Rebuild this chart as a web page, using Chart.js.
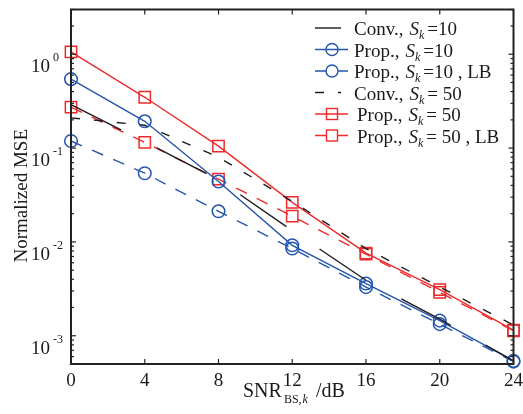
<!DOCTYPE html>
<html>
<head>
<meta charset="utf-8">
<script src="https://cdn.jsdelivr.net/npm/chart.js@4"></script>
<style>
  html, body { margin: 0; padding: 0; background: #fff; }
  #wrap { width: 523px; height: 414px; }
</style>
</head>
<body>
<div id="wrap"><canvas id="mse" width="523" height="414"></canvas></div>
<script>
// SNR_BS,k in dB
const snr = [0, 4, 8, 12, 16, 20, 24];

// normalized MSE
const convS10   = [0.29, 0.117, 0.046, 0.0132, 0.0039, 0.0015, 0.00054];
const propS10   = [0.543, 0.193, 0.044, 0.0092, 0.0036, 0.00145, 0.00054];
const propS10LB = [0.119, 0.054, 0.0212, 0.0085, 0.0033, 0.00133, 0.00053];
const convS50   = [0.21, 0.175, 0.08, 0.027, 0.0085, 0.0033, 0.0013];
const propS50   = [1.06, 0.348, 0.105, 0.0264, 0.0076, 0.0031, 0.00115];
const propS50LB = [0.273, 0.115, 0.0466, 0.0188, 0.0074, 0.0029, 0.00113];

const xTicks = [0, 4, 8, 12, 16, 20, 24];
const yTicks = [1, 0.1, 0.01, 0.001];
const yTickExp = ['0', '-1', '-2', '-3'];

const legendName = ['Conv.,', 'Prop.,', 'Prop.,', 'Conv.,', 'Prop.,', 'Prop.,'];
const legendSk   = ['10', '10', '10', '50', '50', '50'];
const legendTail = ['', '', ' , LB', '', '', ' , LB'];

const BLUE = '#2456ad';
const RED = '#ee2b2b';
const BLACK = '#1c1c1c';
const SERIF = '"Liberation Serif", "Times New Roman", serif';

const pts = arr => arr.map((v, i) => ({ x: snr[i], y: v }));

const SERIES = [
  { data: convS10,   color: BLACK, dash: [56, 40], marker: false },
  { data: propS10,   color: BLUE,  dash: [],       marker: 'circle' },
  { data: propS10LB, color: BLUE,  dash: [12, 11], marker: 'circle' },
  { data: convS50,   color: BLACK, dash: [9, 14],  marker: false },
  { data: propS50,   color: RED,   dash: [],       marker: 'rect' },
  { data: propS50LB, color: RED,   dash: [12, 11], marker: 'rect' }
];

function line(ctx, x1, y1, x2, y2) {
  ctx.beginPath(); ctx.moveTo(x1, y1); ctx.lineTo(x2, y2); ctx.stroke();
}

// frame, inward ticks, tick labels, axis titles and legend
const deco = {
  id: 'deco',
  afterDraw(chart) {
    const { ctx, chartArea: a, scales: { x, y } } = chart;
    ctx.save();
    ctx.strokeStyle = '#222';
    ctx.lineWidth = 2;
    ctx.strokeRect(a.left, a.top, a.right - a.left, a.bottom - a.top);

    ctx.lineWidth = 1.2;
    xTicks.forEach(v => {
      const px = x.getPixelForValue(v);
      line(ctx, px, a.bottom, px, a.bottom - 5);
      line(ctx, px, a.top, px, a.top + 5);
    });
    for (let e = -4; e <= 0; e++) {
      for (let m = 1; m <= 9; m++) {
        const v = m * Math.pow(10, e);
        if (v < y.min || v > y.max) continue;
        const py = y.getPixelForValue(v);
        const len = m === 1 ? 5 : 3;
        line(ctx, a.left, py, a.left + len, py);
        line(ctx, a.right, py, a.right - len, py);
      }
    }

    ctx.fillStyle = '#1a1a1a';
    ctx.textBaseline = 'middle';
    ctx.font = '19px ' + SERIF;
    ctx.textAlign = 'center';
    xTicks.forEach(v => ctx.fillText(String(v), x.getPixelForValue(v), a.bottom + 17));

    yTicks.forEach((v, i) => {
      const py = y.getPixelForValue(v) + 13;
      ctx.textAlign = 'right';
      ctx.font = '19px ' + SERIF;
      ctx.fillText('10', a.left - 21, py);
      ctx.textAlign = 'left';
      ctx.font = '12px ' + SERIF;
      ctx.fillText(yTickExp[i], a.left - 18, py - 9);
    });

    // y title
    ctx.save();
    ctx.translate(22, (a.top + a.bottom) / 2 + 9);
    ctx.rotate(-Math.PI / 2);
    ctx.textAlign = 'center';
    ctx.font = '19px ' + SERIF;
    ctx.fillText('Normalized MSE', 0, 0);
    ctx.restore();

    // x title: SNR_{BS,k} /dB
    ctx.textAlign = 'left';
    ctx.textBaseline = 'alphabetic';
    let tx = 243;
    ctx.font = '20px ' + SERIF;
    ctx.fillText('SNR', tx, 397);
    tx += ctx.measureText('SNR').width + 2;
    ctx.font = '12px ' + SERIF;
    ctx.fillText('BS,', tx, 403);
    tx += ctx.measureText('BS,').width + 1;
    ctx.font = 'italic 12px ' + SERIF;
    ctx.fillText('k', tx, 403);
    tx += ctx.measureText('k').width + 8;
    ctx.font = '20px ' + SERIF;
    ctx.fillText('/dB', tx, 397);

    // legend
    SERIES.forEach((s, i) => {
      const ly = 28 + i * 21.5;
      ctx.strokeStyle = s.color;
      ctx.lineWidth = 1.4;
      ctx.setLineDash(s.dash.length && s.dash[0] > 20 ? [] : s.dash);
      line(ctx, 315, ly, s.marker ? 348 : 341, ly);
      ctx.setLineDash([]);
      if (s.marker === 'circle') {
        ctx.beginPath(); ctx.arc(332, ly, 6, 0, Math.PI * 2); ctx.stroke();
      } else if (s.marker === 'rect') {
        ctx.strokeRect(326.5, ly - 5.5, 11, 11);
      }
      ctx.fillStyle = '#1a1a1a';
      let lx = i >= 4 ? 357 : 354;
      ctx.font = '19px ' + SERIF;
      ctx.fillText(legendName[i], lx, ly + 7);
      lx += ctx.measureText(legendName[i]).width + 6;
      ctx.font = 'italic 19px ' + SERIF;
      ctx.fillText('S', lx, ly + 7);
      lx += ctx.measureText('S').width;
      ctx.font = 'italic 12px ' + SERIF;
      ctx.fillText('k', lx, ly + 11);
      lx += ctx.measureText('k').width + 3;
      ctx.font = '19px ' + SERIF;
      const rest = (i >= 3 ? '= ' : '=') + legendSk[i] + legendTail[i];
      ctx.fillText(rest, lx, ly + 7);
    });
    ctx.restore();
  }
};

new Chart(document.getElementById('mse'), {
  type: 'line',
  data: {
    datasets: SERIES.map(s => ({
      data: pts(s.data),
      borderColor: s.color,
      backgroundColor: 'rgba(0,0,0,0)',
      borderWidth: 1.4,
      borderDash: s.dash,
      tension: 0,
      clip: false,
      pointStyle: s.marker || 'circle',
      pointRadius: s.marker === 'rect' ? 8 : (s.marker ? 6.3 : 0),
      pointBorderWidth: 1.5,
      pointBorderColor: s.color,
      pointBackgroundColor: 'rgba(0,0,0,0)',
      pointHoverRadius: 0
    }))
  },
  options: {
    responsive: false,
    devicePixelRatio: 1,
    animation: false,
    layout: { padding: { left: 0, right: 8, top: 6, bottom: 0 } },
    plugins: { legend: { display: false }, tooltip: { enabled: false } },
    scales: {
      x: {
        type: 'linear', min: 0, max: 24,
        grid: { display: false }, border: { display: false },
        ticks: { display: false },
        afterFit: s => { s.height = 50; }
      },
      y: {
        type: 'logarithmic', min: 5e-4, max: 3,
        grid: { display: false }, border: { display: false },
        ticks: { display: false },
        afterFit: s => { s.width = 71; }
      }
    }
  },
  plugins: [deco]
});
</script>
</body>
</html>
